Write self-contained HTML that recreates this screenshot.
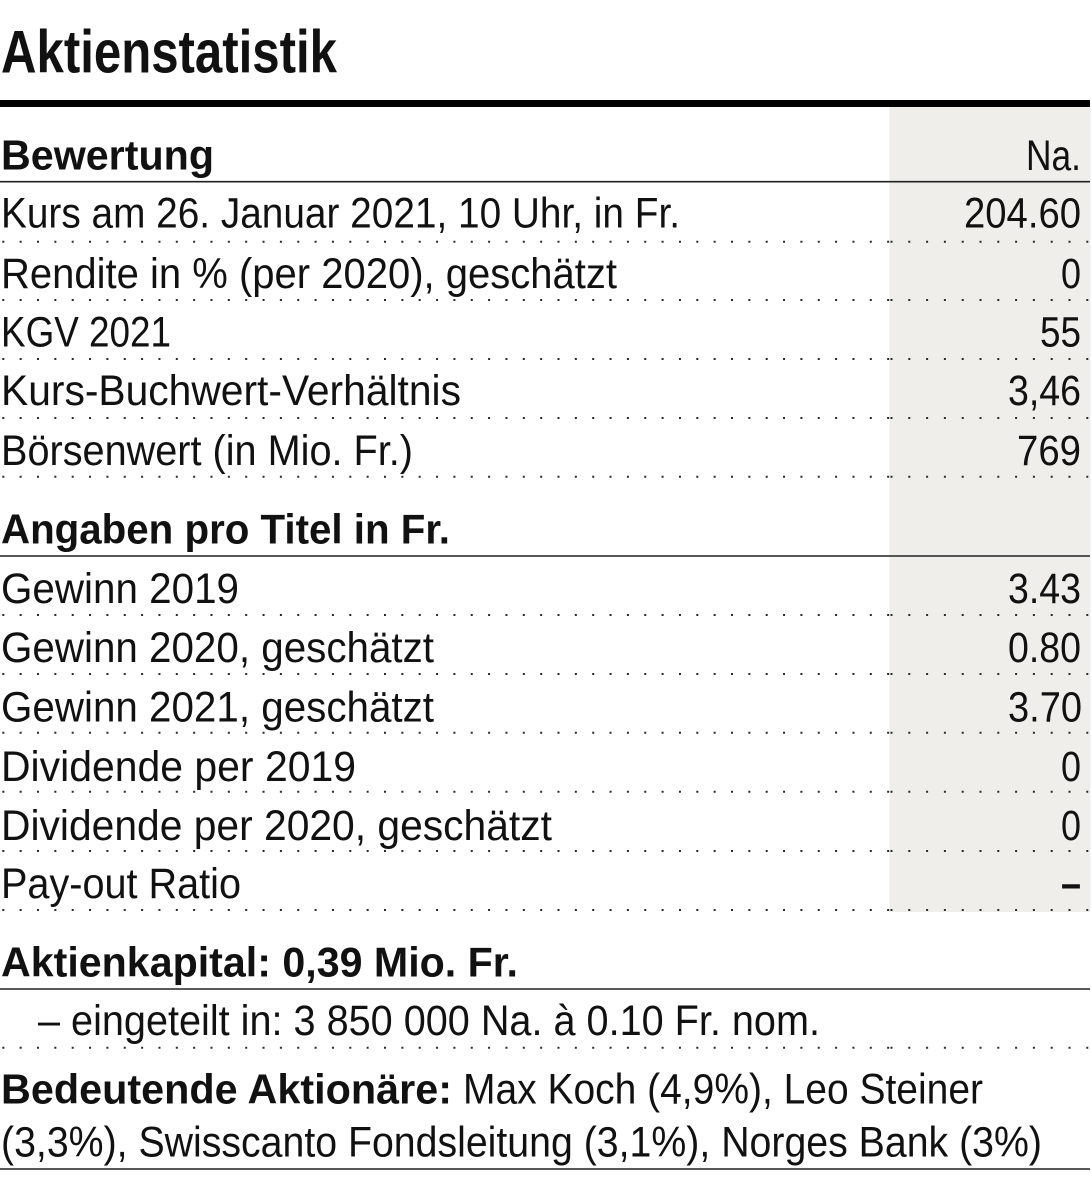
<!DOCTYPE html>
<html>
<head>
<meta charset="utf-8">
<style>
  html, body { margin: 0; padding: 0; background: #ffffff; }
  svg { display: block; }
  text { font-family: "Liberation Sans", Arial, sans-serif; fill: #111; }
  .t { font-size: 60px; font-weight: bold; }
  .h { font-size: 42px; font-weight: bold; }
  .r { font-size: 43px; }
</style>
</head>
<body>
<svg width="1091" height="1201" viewBox="0 0 1091 1201" xmlns="http://www.w3.org/2000/svg">
  <rect x="0" y="0" width="1091" height="1201" fill="#ffffff"/>

  <!-- title -->
  <text class="t" x="1" y="72.5" textLength="336" lengthAdjust="spacingAndGlyphs">Aktienstatistik</text>
  <rect x="0" y="100" width="1090" height="7" fill="#000"/>

  <!-- gray value column -->
  <rect x="889.5" y="107" width="201" height="805" fill="#efeeea"/>

  <!-- solid rules -->
  <g stroke="#222" stroke-width="1.6">
    <line x1="0" y1="181.7" x2="1090" y2="181.7"/>
    <line x1="0" y1="556" x2="1090" y2="556"/>
    <line x1="0" y1="989" x2="1090" y2="989"/>
    <line x1="0" y1="1169" x2="1090" y2="1169"/>
  </g>

  <!-- dotted rules -->
  <g stroke="#2a2a2a" stroke-width="2">
    <g stroke-dasharray="2 15.35">
      <line x1="2.3" y1="241.7" x2="890" y2="241.7"/>
      <line x1="2.3" y1="300" x2="890" y2="300"/>
      <line x1="2.3" y1="359" x2="890" y2="359"/>
      <line x1="2.3" y1="418" x2="890" y2="418"/>
      <line x1="2.3" y1="476.7" x2="890" y2="476.7"/>
      <line x1="2.3" y1="615" x2="890" y2="615"/>
      <line x1="2.3" y1="674" x2="890" y2="674"/>
      <line x1="2.3" y1="732.7" x2="890" y2="732.7"/>
      <line x1="2.3" y1="791.7" x2="890" y2="791.7"/>
      <line x1="2.3" y1="851" x2="890" y2="851"/>
      <line x1="2.3" y1="910" x2="890" y2="910"/>
      <line x1="2.3" y1="1047.7" x2="890" y2="1047.7"/>
    </g>
    <g stroke-dasharray="2 15.8">
      <line x1="890.5" y1="241.7" x2="1091" y2="241.7"/>
      <line x1="890.5" y1="300" x2="1091" y2="300"/>
      <line x1="890.5" y1="359" x2="1091" y2="359"/>
      <line x1="890.5" y1="418" x2="1091" y2="418"/>
      <line x1="890.5" y1="476.7" x2="1091" y2="476.7"/>
      <line x1="890.5" y1="615" x2="1091" y2="615"/>
      <line x1="890.5" y1="674" x2="1091" y2="674"/>
      <line x1="890.5" y1="732.7" x2="1091" y2="732.7"/>
      <line x1="890.5" y1="791.7" x2="1091" y2="791.7"/>
      <line x1="890.5" y1="851" x2="1091" y2="851"/>
      <line x1="890.5" y1="910" x2="1091" y2="910"/>
      <line x1="890.5" y1="1047.7" x2="1091" y2="1047.7"/>
    </g>
  </g>

  <!-- Section 1 -->
  <text class="h" x="1" y="169.5" textLength="213" lengthAdjust="spacingAndGlyphs">Bewertung</text>
  <text class="r" x="1026" y="170" textLength="55" lengthAdjust="spacingAndGlyphs">Na.</text>

  <text class="r" x="1" y="227.7" textLength="679" lengthAdjust="spacingAndGlyphs">Kurs am 26. Januar 2021, 10 Uhr, in Fr.</text>
  <text class="r" x="964" y="227.7" textLength="117" lengthAdjust="spacingAndGlyphs">204.60</text>

  <text class="r" x="1" y="288" textLength="616" lengthAdjust="spacingAndGlyphs">Rendite in % (per 2020), geschätzt</text>
  <text class="r" x="1061" y="288" textLength="20" lengthAdjust="spacingAndGlyphs">0</text>

  <text class="r" x="1" y="346.7" textLength="170" lengthAdjust="spacingAndGlyphs">KGV 2021</text>
  <text class="r" x="1040" y="346.7" textLength="41" lengthAdjust="spacingAndGlyphs">55</text>

  <text class="r" x="1" y="405" textLength="460" lengthAdjust="spacingAndGlyphs">Kurs-Buchwert-Verhältnis</text>
  <text class="r" x="1008" y="405" textLength="73" lengthAdjust="spacingAndGlyphs">3,46</text>

  <text class="r" x="1" y="465" textLength="412" lengthAdjust="spacingAndGlyphs">Börsenwert (in Mio. Fr.)</text>
  <text class="r" x="1017" y="465" textLength="64" lengthAdjust="spacingAndGlyphs">769</text>

  <!-- Section 2 -->
  <text class="h" x="1" y="543.3" textLength="449" lengthAdjust="spacingAndGlyphs">Angaben pro Titel in Fr.</text>

  <text class="r" x="1" y="603" textLength="238" lengthAdjust="spacingAndGlyphs">Gewinn 2019</text>
  <text class="r" x="1008" y="603" textLength="73" lengthAdjust="spacingAndGlyphs">3.43</text>

  <text class="r" x="1" y="662" textLength="433" lengthAdjust="spacingAndGlyphs">Gewinn 2020, geschätzt</text>
  <text class="r" x="1008" y="662" textLength="73" lengthAdjust="spacingAndGlyphs">0.80</text>

  <text class="r" x="1" y="721.7" textLength="433" lengthAdjust="spacingAndGlyphs">Gewinn 2021, geschätzt</text>
  <text class="r" x="1008" y="721.7" textLength="74" lengthAdjust="spacingAndGlyphs">3.70</text>

  <text class="r" x="1" y="781" textLength="355" lengthAdjust="spacingAndGlyphs">Dividende per 2019</text>
  <text class="r" x="1061" y="781" textLength="20" lengthAdjust="spacingAndGlyphs">0</text>

  <text class="r" x="1" y="840" textLength="551" lengthAdjust="spacingAndGlyphs">Dividende per 2020, geschätzt</text>
  <text class="r" x="1061" y="840" textLength="20" lengthAdjust="spacingAndGlyphs">0</text>

  <text class="r" x="1" y="898" textLength="240" lengthAdjust="spacingAndGlyphs">Pay-out Ratio</text>
  <text class="r" x="1061" y="898" textLength="20" lengthAdjust="spacingAndGlyphs" style="font-weight:bold">–</text>

  <!-- Section 3 -->
  <text class="h" x="1" y="976.7" textLength="517" lengthAdjust="spacingAndGlyphs">Aktienkapital: 0,39 Mio. Fr.</text>
  <text class="r" x="38" y="1035" textLength="782" lengthAdjust="spacingAndGlyphs">– eingeteilt in: 3 850 000 Na. à 0.10 Fr. nom.</text>

  <text class="h" x="1" y="1103.3" textLength="451" lengthAdjust="spacingAndGlyphs">Bedeutende Aktionäre:</text>
  <text class="r" x="463" y="1103.3" textLength="520" lengthAdjust="spacingAndGlyphs">Max Koch (4,9%), Leo Steiner</text>
  <text class="r" x="1" y="1156.7" textLength="1041" lengthAdjust="spacingAndGlyphs">(3,3%), Swisscanto Fondsleitung (3,1%), Norges Bank (3%)</text>
</svg>
</body>
</html>
